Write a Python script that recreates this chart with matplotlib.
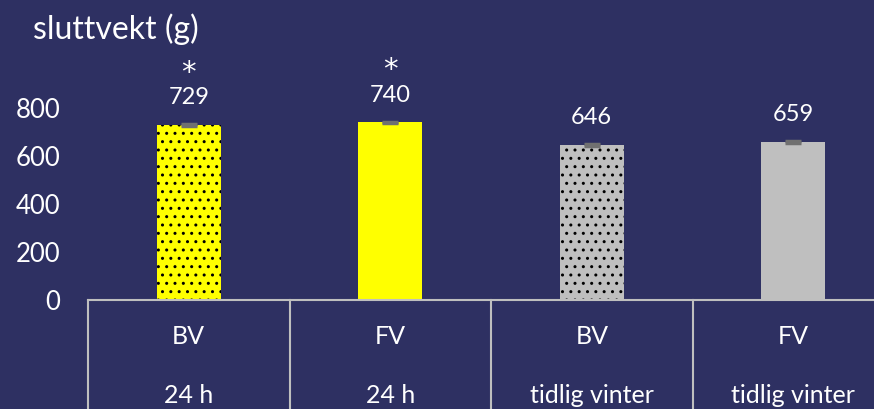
import matplotlib.pyplot as plt
import numpy as np

# data
groups = ["BV", "FV", "BV", "FV"]
periods = ["24 h", "24 h", "tidlig vinter", "tidlig vinter"]
weights = [729, 740, 646, 659]
sem = [3, 3, 3, 3]
signif = ["*", "*", "", ""]
bar_colors = ["#FFFF00", "#FFFF00", "#BFBFBF", "#BFBFBF"]
bar_hatch = ["..", "", "..", ""]
yticks = [0, 200, 400, 600, 800]

bg = "#2E3062"
plt.rcParams['font.family'] = ['Lato', 'DejaVu Sans']

fig = plt.figure(figsize=(8.74, 4.09), dpi=100)
fig.patch.set_facecolor(bg)
ax = fig.add_axes([88/874, 109/409, 806/874, 216/409])
ax.set_facecolor(bg)

x = np.arange(len(weights))
for i in range(len(weights)):
    ax.bar(x[i], weights[i], width=0.32, color=bar_colors[i], hatch=bar_hatch[i],
           edgecolor="black", linewidth=0, zorder=2)
ax.errorbar(x, weights, yerr=sem, fmt="none", ecolor="#707070", capsize=5.5,
            capthick=2.5, elinewidth=1, zorder=3)

# value labels and stars
for i in range(len(weights)):
    ax.annotate(str(weights[i]), (x[i], weights[i]), xytext=(0, 19.5),
                textcoords="offset points", ha="center", va="center",
                color="white", fontsize=17)
    if signif[i]:
        ax.annotate(signif[i], (x[i], weights[i]), xytext=(0, 32),
                    textcoords="offset points", ha="center", va="baseline",
                    color="white", fontsize=21, family="DejaVu Sans")

ax.set_xlim(-0.5, 3.5)
ax.set_ylim(0, 900)
ax.set_yticks(yticks)
ax.set_yticklabels([str(t) for t in yticks], color="white", fontsize=18.5)
ax.tick_params(axis="y", length=0, pad=20)
ax.set_xticks([])
for s in ["top", "right", "left"]:
    ax.spines[s].set_visible(False)
ax.spines["bottom"].set_color("#BFBFBF")
ax.spines["bottom"].set_linewidth(1.5)

# category table under the axis
tr = ax.get_xaxis_transform()
for b in [-0.5, 0.5, 1.5, 2.5]:
    ax.plot([b, b], [0, -0.52], transform=tr, color="#BFBFBF", lw=1.5, clip_on=False)
for i in range(len(groups)):
    ax.text(x[i], -0.171, groups[i], transform=tr, ha="center", va="center",
            color="white", fontsize=18)
    ax.text(x[i], -0.44, periods[i], transform=tr, ha="center", va="center",
            color="white", fontsize=18)

fig.text(33/874, 1 - 29/409, "sluttvekt (g)", ha="left", va="center",
         color="white", fontsize=23)

fig.savefig("out.png", dpi=100, facecolor=bg)
